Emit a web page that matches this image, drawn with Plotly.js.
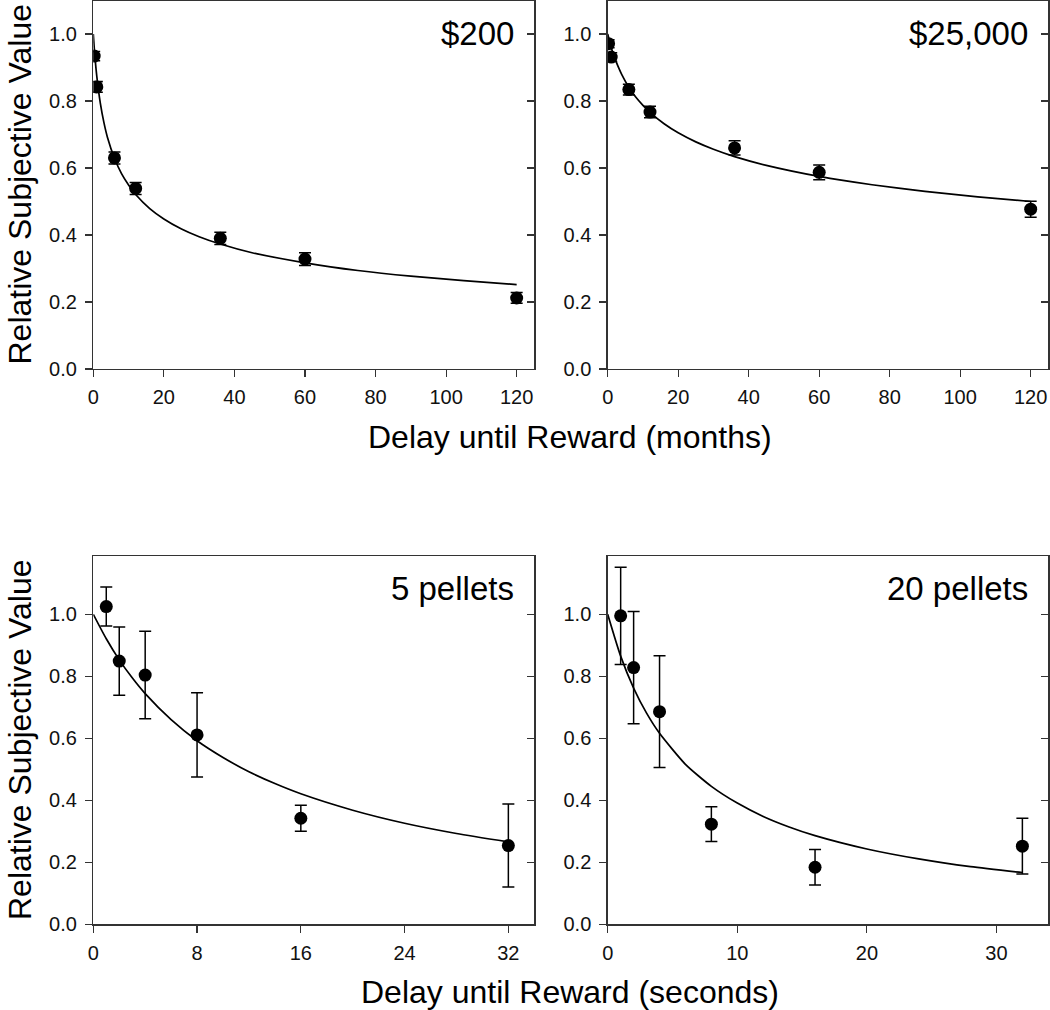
<!DOCTYPE html>
<html>
<head>
<meta charset="utf-8">
<script src="https://cdn.plot.ly/plotly-3.0.1.min.js"></script>
<style>html,body{margin:0;padding:0;background:#fff;}#chart{width:1050px;height:1010px;}</style>
</head>
<body>
<div id="chart"></div>
<script>
// ---- data ----
const monthsDelay = [0.25, 1, 6, 12, 36, 60, 120];
const val200 = [0.934, 0.842, 0.630, 0.539, 0.390, 0.328, 0.212];
const err200 = [0.014, 0.016, 0.018, 0.018, 0.018, 0.019, 0.016];
const val25k = [0.971, 0.931, 0.834, 0.767, 0.660, 0.587, 0.477];
const err25k = [0.012, 0.013, 0.016, 0.017, 0.021, 0.022, 0.024];

const fitMonthsX = [0, 0.25, 0.5, 1, 2, 3, 4, 6, 8, 10, 12, 16, 20, 25, 30, 36, 45, 60, 75, 90, 105, 120];
const fit200 = [1.0, 0.961, 0.928, 0.873, 0.793, 0.736, 0.692, 0.629, 0.583, 0.549, 0.521, 0.479, 0.448, 0.418, 0.395, 0.373, 0.347, 0.317, 0.294, 0.277, 0.264, 0.252];
const fit25k = [1.0, 0.990, 0.979, 0.960, 0.928, 0.902, 0.879, 0.841, 0.811, 0.787, 0.766, 0.732, 0.705, 0.678, 0.656, 0.634, 0.608, 0.575, 0.550, 0.530, 0.514, 0.500];

const secDelay = [1, 2, 4, 8, 16, 32];
const val5 = [1.025, 0.849, 0.804, 0.611, 0.342, 0.254];
const err5 = [0.063, 0.110, 0.141, 0.136, 0.042, 0.134];
const val20 = [0.995, 0.828, 0.686, 0.323, 0.184, 0.252];
const err20 = [0.157, 0.181, 0.180, 0.056, 0.057, 0.090];

const fitSecX = [0, 1, 2, 3, 4, 6, 8, 10, 12, 14, 16, 20, 24, 28, 32];
const fit5 = [1.0, 0.921, 0.853, 0.795, 0.744, 0.660, 0.592, 0.538, 0.492, 0.454, 0.421, 0.368, 0.326, 0.293, 0.266];
const fit20 = [1.0, 0.865, 0.762, 0.681, 0.616, 0.516, 0.445, 0.391, 0.348, 0.314, 0.286, 0.243, 0.211, 0.186, 0.167];

const panelLabels = ['$200', '$25,000', '5 pellets', '20 pellets'];
const yTitle = 'Relative Subjective Value';
const xTitleMonths = 'Delay until Reward (months)';
const xTitleSeconds = 'Delay until Reward (seconds)';
const yTicks = [0, 0.2, 0.4, 0.6, 0.8, 1.0];
const monthTicks = [0, 20, 40, 60, 80, 100, 120];
const sec5Ticks = [0, 8, 16, 24, 32];
const sec20Ticks = [0, 10, 20, 30];

// ---- styling ----
const FONT = 'Liberation Sans, Arial, Helvetica, sans-serif';
const AX = '#333333';

function pts(x, y, e, xa, ya) {
  return {x: x, y: y, xaxis: xa, yaxis: ya, type: 'scatter', mode: 'markers',
    marker: {color: '#000', size: 13},
    error_y: {type: 'data', array: e, visible: true, color: '#000', thickness: 1.5, width: 6},
    showlegend: false, hoverinfo: 'x+y'};
}
function fit(x, y, xa, ya) {
  return {x: x, y: y, xaxis: xa, yaxis: ya, type: 'scatter', mode: 'lines',
    line: {color: '#000', width: 1.7, shape: 'spline', smoothing: 0.6},
    showlegend: false, hoverinfo: 'skip'};
}

const data = [
  fit(fitMonthsX, fit200, 'x', 'y'),
  pts(monthsDelay, val200, err200, 'x', 'y'),
  fit(fitMonthsX, fit25k, 'x2', 'y2'),
  pts(monthsDelay, val25k, err25k, 'x2', 'y2'),
  fit(fitSecX, fit5, 'x3', 'y3'),
  pts(secDelay, val5, err5, 'x3', 'y3'),
  fit(fitSecX, fit20, 'x4', 'y4'),
  pts(secDelay, val20, err20, 'x4', 'y4'),
  {x: [], y: [], xaxis: 'x', yaxis: 'y5', showlegend: false},
  {x: [], y: [], xaxis: 'x2', yaxis: 'y6', showlegend: false},
  {x: [], y: [], xaxis: 'x3', yaxis: 'y7', showlegend: false},
  {x: [], y: [], xaxis: 'x4', yaxis: 'y8', showlegend: false}
];

const W = 1050, H = 1010;
const leftDom = [93.3 / W, 534.3 / W];
const rightDom = [607.7 / W, 1048.3 / W];
const topDom = [1 - 369 / H, 1 - 0.5 / H];
const botDom = [1 - 924.3 / H, 1 - 556 / H];

const tickFont = {family: FONT, size: 20, color: '#111'};

function xa(dom, anchor, range, ticks) {
  return {domain: dom, anchor: anchor, range: range, tickmode: 'array', tickvals: ticks,
    ticks: 'outside', ticklen: 7, tickwidth: 1.2, tickcolor: AX,
    showline: true, linecolor: AX, linewidth: 1.4, mirror: true,
    showgrid: false, zeroline: false, tickfont: tickFont, ticklabelstandoff: 3, fixedrange: true};
}
function ya(dom, anchor, range) {
  return {domain: dom, anchor: anchor, range: range, tickmode: 'array', tickvals: yTicks,
    tickformat: '.1f', ticks: 'outside', ticklen: 7, tickwidth: 1.2, tickcolor: AX,
    showline: true, linecolor: AX, linewidth: 1.4, mirror: true,
    showgrid: false, zeroline: false, tickfont: tickFont, ticklabelstandoff: 4, fixedrange: true};
}
function yr(over, anchor, range) {
  return {overlaying: over, anchor: anchor, side: 'right', range: range, tickmode: 'array', tickvals: yTicks,
    ticks: 'inside', ticklen: 7, tickwidth: 1.2, tickcolor: AX, showticklabels: false,
    showline: false, showgrid: false, zeroline: false, fixedrange: true};
}

const topRange = [0, 1.1];
const botRange = [0, 1.188];

function panelLabel(txt, xr, yrf) {
  return {text: txt, xref: xr + ' domain', yref: yrf + ' domain', x: 1, y: 1,
    xanchor: 'right', yanchor: 'top', xshift: -18, yshift: -12, showarrow: false,
    font: {family: FONT, size: 33, color: '#000'}};
}

const layout = {
  width: W, height: H,
  margin: {l: 0, r: 0, t: 0, b: 0},
  paper_bgcolor: '#fff', plot_bgcolor: '#fff',
  font: {family: FONT, color: '#000'},
  showlegend: false,
  xaxis: xa(leftDom, 'y', [0, 125], monthTicks),
  yaxis: ya(topDom, 'x', topRange),
  xaxis2: xa(rightDom, 'y2', [0, 125], monthTicks),
  yaxis2: ya(topDom, 'x2', topRange),
  xaxis3: xa(leftDom, 'y3', [0, 34], sec5Ticks),
  yaxis3: ya(botDom, 'x3', botRange),
  xaxis4: xa(rightDom, 'y4', [0, 34], sec20Ticks),
  yaxis4: ya(botDom, 'x4', botRange),
  yaxis5: yr('y', 'x', topRange),
  yaxis6: yr('y2', 'x2', topRange),
  yaxis7: yr('y3', 'x3', botRange),
  yaxis8: yr('y4', 'x4', botRange),
  annotations: [
    panelLabel(panelLabels[0], 'x', 'y'),
    panelLabel(panelLabels[1], 'x2', 'y2'),
    panelLabel(panelLabels[2], 'x3', 'y3'),
    panelLabel(panelLabels[3], 'x4', 'y4'),
    {text: yTitle, textangle: -90, xref: 'paper', yref: 'paper', x: 20 / W, y: 1 - 184.5 / H,
      xanchor: 'center', yanchor: 'middle', showarrow: false, font: {family: FONT, size: 32, color: '#000'}},
    {text: yTitle, textangle: -90, xref: 'paper', yref: 'paper', x: 20 / W, y: 1 - 740 / H,
      xanchor: 'center', yanchor: 'middle', showarrow: false, font: {family: FONT, size: 32, color: '#000'}},
    {text: xTitleMonths, xref: 'paper', yref: 'paper', x: 570 / W, y: 1 - 437 / H,
      xanchor: 'center', yanchor: 'middle', showarrow: false, font: {family: FONT, size: 32, color: '#000'}},
    {text: xTitleSeconds, xref: 'paper', yref: 'paper', x: 570 / W, y: 1 - 992 / H,
      xanchor: 'center', yanchor: 'middle', showarrow: false, font: {family: FONT, size: 32, color: '#000'}}
  ]
};

Plotly.newPlot('chart', data, layout, {displayModeBar: false, staticPlot: true});
</script>
</body>
</html>
